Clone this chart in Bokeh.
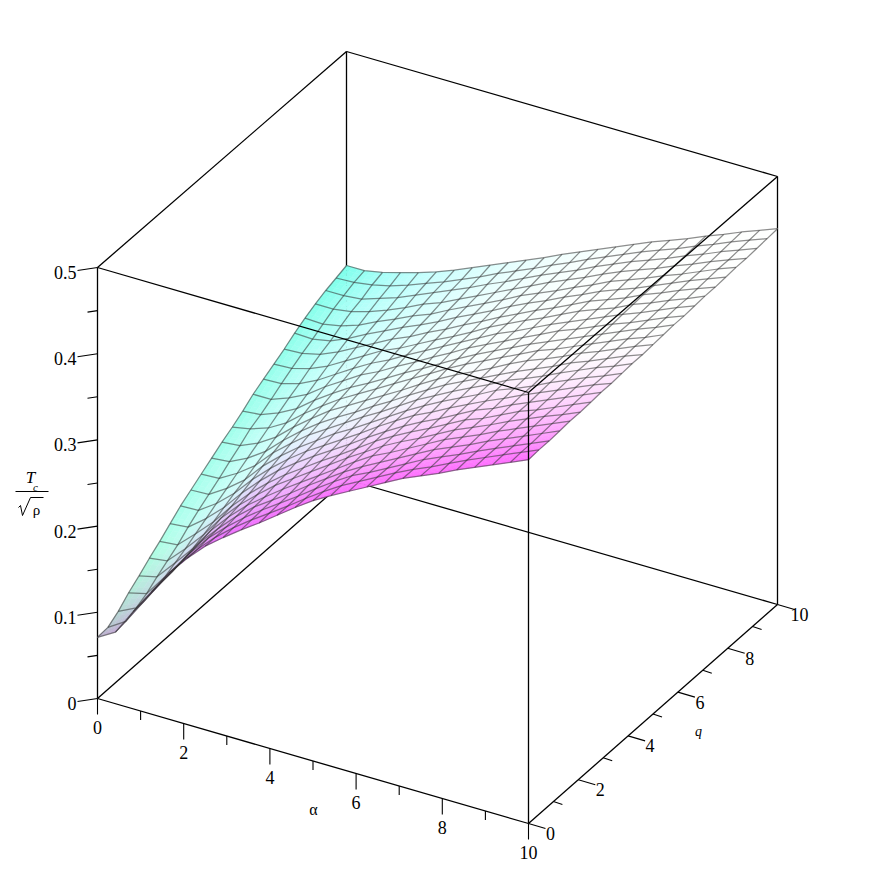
from bokeh.plotting import figure
from bokeh.models import Range1d
from bokeh.embed import file_html
from bokeh.resources import INLINE
from bokeh.core.properties import value
import numpy as np

# Tc/sqrt(rho); one list per alpha grid line, q rising along each list
z_a00 = [.071,.072,.080,.091,.100,.110,.119,.129,.139,.147,.155,.163,.171,.178,.186,.195,.202,.209,.216,.224,.231,.237,.242,.246,.250]
z_a01 = [.083,.085,.090,.096,.105,.113,.121,.131,.140,.148,.156,.165,.173,.182,.188,.195,.203,.210,.217,.223,.230,.237,.242,.247,.250]
z_a02 = [.113,.114,.117,.121,.127,.133,.140,.147,.154,.161,.168,.175,.182,.189,.196,.203,.209,.216,.222,.227,.234,.240,.244,.250,.254]
z_a03 = [.142,.143,.144,.147,.150,.155,.160,.166,.172,.177,.183,.189,.195,.201,.207,.213,.219,.225,.231,.236,.241,.246,.251,.255,.260]
z_a04 = [.170,.170,.172,.174,.177,.181,.184,.189,.194,.199,.204,.208,.213,.218,.223,.228,.232,.237,.242,.247,.251,.254,.258,.262,.266]
z_a05 = [.193,.193,.195,.196,.199,.202,.205,.209,.213,.217,.221,.225,.229,.233,.237,.241,.245,.249,.253,.257,.260,.263,.267,.270,.273]
z_a06 = [.213,.213,.214,.216,.218,.220,.223,.227,.230,.233,.237,.240,.244,.247,.250,.254,.257,.261,.264,.267,.270,.273,.276,.278,.281]
z_a07 = [.229,.230,.231,.233,.234,.237,.239,.242,.245,.247,.250,.253,.256,.259,.261,.264,.267,.270,.273,.276,.278,.281,.285,.287,.290]
z_a08 = [.244,.245,.246,.247,.249,.251,.253,.256,.258,.261,.263,.265,.268,.271,.273,.276,.279,.281,.284,.286,.289,.291,.294,.296,.299]
z_a09 = [.258,.259,.260,.261,.263,.265,.267,.269,.271,.273,.276,.278,.280,.283,.285,.287,.290,.292,.294,.297,.299,.301,.304,.306,.308]
z_a10 = [.273,.273,.274,.276,.277,.279,.280,.282,.284,.286,.288,.290,.292,.295,.296,.299,.301,.302,.305,.307,.309,.311,.313,.315,.317]
z_a11 = [.288,.288,.289,.290,.291,.293,.294,.296,.298,.299,.301,.303,.305,.307,.308,.310,.312,.313,.315,.317,.319,.321,.323,.324,.326]
z_a12 = [.302,.302,.303,.304,.305,.306,.308,.309,.311,.312,.314,.315,.317,.319,.320,.322,.323,.325,.326,.328,.330,.331,.333,.334,.336]
z_a13 = [.314,.315,.316,.316,.318,.319,.320,.321,.323,.324,.325,.327,.328,.330,.331,.332,.334,.335,.336,.338,.339,.341,.342,.343,.345]
z_a14 = [.325,.326,.326,.327,.328,.330,.331,.332,.333,.335,.336,.337,.338,.340,.341,.342,.343,.345,.346,.347,.348,.350,.351,.353,.354]
z_a15 = [.336,.337,.337,.338,.339,.340,.341,.342,.344,.345,.346,.347,.348,.350,.351,.352,.353,.354,.355,.357,.358,.359,.361,.362,.363]
z_a16 = [.347,.348,.348,.349,.350,.351,.352,.353,.354,.355,.356,.357,.359,.360,.361,.362,.363,.364,.365,.366,.367,.369,.370,.371,.372]
z_a17 = [.358,.358,.359,.360,.361,.362,.363,.364,.364,.366,.367,.367,.369,.370,.370,.372,.372,.374,.375,.376,.377,.378,.379,.380,.381]
z_a18 = [.367,.367,.368,.369,.370,.371,.371,.372,.373,.374,.375,.376,.377,.378,.379,.380,.381,.382,.383,.384,.385,.386,.387,.388,.389]
z_a19 = [.376,.377,.377,.378,.379,.380,.381,.382,.383,.383,.384,.385,.386,.387,.388,.389,.390,.390,.391,.392,.393,.394,.395,.396,.397]
z_a20 = [.386,.387,.387,.388,.389,.390,.391,.391,.392,.393,.394,.395,.396,.396,.397,.398,.399,.400,.401,.401,.402,.403,.404,.405,.406]
z_a21 = [.395,.396,.396,.397,.398,.399,.399,.400,.401,.402,.403,.403,.404,.405,.406,.406,.407,.408,.409,.410,.410,.411,.412,.413,.414]
z_a22 = [.404,.405,.405,.406,.407,.408,.408,.409,.410,.411,.412,.412,.413,.414,.415,.415,.416,.417,.418,.419,.419,.420,.421,.422,.423]
z_a23 = [.413,.414,.414,.415,.416,.416,.417,.418,.419,.419,.420,.421,.422,.422,.423,.424,.425,.425,.426,.427,.428,.428,.429,.430,.431]
z_a24 = [.422,.423,.423,.424,.425,.425,.426,.427,.427,.428,.429,.429,.430,.431,.432,.432,.433,.434,.434,.435,.436,.436,.437,.438,.439]

alpha_major = [0, 2, 4, 6, 8, 10]
alpha_minor = [1, 3, 5, 7, 9]
q_major = [0, 2, 4, 6, 8, 10]
q_minor = [1, 3, 5, 7, 9]
z_major = [0, 0.1, 0.2, 0.3, 0.4, 0.5]
z_minor = [0.05, 0.15, 0.25, 0.35, 0.45]
z_labels = ["0", "0.1", "0.2", "0.3", "0.4", "0.5"]

Z = np.array([z_a00, z_a01, z_a02, z_a03, z_a04, z_a05, z_a06, z_a07, z_a08, z_a09, z_a10, z_a11, z_a12,
              z_a13, z_a14, z_a15, z_a16, z_a17, z_a18, z_a19, z_a20, z_a21, z_a22, z_a23, z_a24])
N = Z.shape[0]
A = np.linspace(0, 10, N)
Q = np.linspace(0, 10, N)


def px(a, q):
    return 97 + 43.1 * np.asarray(a, float) + 24.9 * np.asarray(q, float)


def py(a, q, z):
    a, q, z = np.asarray(a, float), np.asarray(q, float), np.asarray(z, float)
    return 698 + 12.5 * a - 21.9 * q - (862 - 0.6 * q) * z


def colour(a, q):
    e = np.exp(-a / 0.8) * np.clip(q / 3, 0, 1)
    cy = (0.17 + 0.20 * (q / 10) ** 2) * np.clip(1 - a / 8, 0, 1) ** 2 + 0.15 * e
    w = min(5.5, 2.5 + 1.5 * a)
    mg = min(0.57, 0.30 + 0.1 * a) * np.clip(1 - q / w, 0, 1) ** 1.8
    low = np.clip(1 - a / 2.5, 0, 1) * np.clip(1 - q / 3, 0, 1)
    bb = 0.2 * low + 0.08 * e
    r = 1 - cy - 0.1 * low
    return "#%02x%02x%02x" % (int(255 * r), int(255 * (1 - mg)), int(255 * (1 - bb)))


p = figure(width=866, height=866, x_range=Range1d(0, 866), y_range=Range1d(866, 0),
           output_backend="svg", toolbar_location=None, min_border=0)
p.axis.visible = False
p.grid.visible = False
p.outline_line_color = None
p.background_fill_color = "white"
p.border_fill_color = "white"


def edge(a0, q0, z0, a1, q1, z1):
    p.line([float(px(a0, q0)), float(px(a1, q1))], [float(py(a0, q0, z0)), float(py(a1, q1, z1))],
           line_color="black", line_width=1.3)


# Box edges behind the surface
edge(0, 0, 0, 10, 0, 0)
edge(10, 0, 0, 10, 10, 0)
edge(0, 0, 0, 0, 10, 0)
edge(0, 10, 0, 10, 10, 0)
edge(0, 10, 0, 0, 10, 0.5)
edge(0, 10, 0.5, 10, 10, 0.5)
edge(0, 0, 0.5, 0, 10, 0.5)
edge(10, 10, 0, 10, 10, 0.5)
edge(0, 0, 0, 0, 0, 0.5)

# Surface, painted back to front
SUB = 3
cells = []
for i in range(N - 1):
    for j in range(N - 1):
        for u in range(SUB):
            for v in range(SUB):
                cells.append((i, j, u, v))
cells.sort(key=lambda c: 12.5 * (A[c[0]] + c[2]) - 21.9 * (Q[c[1]] + c[3]))


def bil(i, j, s, t):
    a = A[i] + (A[i + 1] - A[i]) * s
    q = Q[j] + (Q[j + 1] - Q[j]) * t
    z = (Z[i, j] * (1 - s) * (1 - t) + Z[i + 1, j] * s * (1 - t)
         + Z[i, j + 1] * (1 - s) * t + Z[i + 1, j + 1] * s * t)
    return a, q, z


xs, ys, cols = [], [], []
for i, j, u, v in cells:
    s0, s1, t0, t1 = u / SUB, (u + 1) / SUB, v / SUB, (v + 1) / SUB
    pts = [bil(i, j, s0, t0), bil(i, j, s1, t0), bil(i, j, s1, t1), bil(i, j, s0, t1)]
    xs.append([float(px(a, q)) for a, q, z in pts])
    ys.append([float(py(a, q, z)) for a, q, z in pts])
    ac, qc, _ = bil(i, j, (s0 + s1) / 2, (t0 + t1) / 2)
    cols.append(colour(ac, qc))
p.patches(xs, ys, fill_color=cols, line_color=cols, line_width=0.5)

# Wire mesh
wx, wy = [], []
for i in range(N):
    wx.append(px(np.full(N, A[i]), Q).tolist())
    wy.append(py(np.full(N, A[i]), Q, Z[i]).tolist())
for j in range(N):
    wx.append(px(A, np.full(N, Q[j])).tolist())
    wy.append(py(A, np.full(N, Q[j]), Z[:, j]).tolist())
p.multi_line(wx, wy, line_color="#303030", line_alpha=0.55, line_width=1.25)

# Box edges in front of the surface
edge(0, 0, 0.5, 10, 0, 0.5)
edge(10, 0, 0.5, 10, 10, 0.5)
edge(10, 0, 0, 10, 0, 0.5)

serif = value("Liberation Serif")

# alpha axis
for v_, ln in [(v_, 16) for v_ in alpha_major] + [(v_, 9) for v_ in alpha_minor]:
    x0, y0 = float(px(v_, 0)), float(py(v_, 0, 0))
    p.line([x0, x0], [y0, y0 + ln], line_color="black", line_width=1.1)
p.text([float(px(v_, 0)) for v_ in alpha_major], [float(py(v_, 0, 0)) + 29 for v_ in alpha_major],
       text=[str(v_) for v_ in alpha_major], text_font=serif, text_font_size="18px",
       text_align="center", text_baseline="middle", text_color="black")

# q axis
for v_, dx, dy in [(v_, 17, 5) for v_ in q_major] + [(v_, 9, 3) for v_ in q_minor]:
    x0, y0 = float(px(10, v_)), float(py(10, v_, 0))
    p.line([x0, x0 + dx], [y0, y0 + dy], line_color="black", line_width=1.1)
p.text([float(px(10, v_)) + 22 for v_ in q_major], [float(py(10, v_, 0)) + 10 for v_ in q_major],
       text=[str(v_) for v_ in q_major], text_font=serif, text_font_size="18px",
       text_align="center", text_baseline="middle", text_color="black")

# z axis
for v_, dx, dy in [(v_, -20, 3) for v_ in z_major] + [(v_, -10, 1.5) for v_ in z_minor]:
    x0, y0 = float(px(0, 0)), float(py(0, 0, v_))
    p.line([x0, x0 + dx], [y0, y0 + dy], line_color="black", line_width=1.1)
p.text([76] * len(z_major), [float(py(0, 0, v_)) + 5 for v_ in z_major],
       text=z_labels, text_font=serif, text_font_size="18px",
       text_align="right", text_baseline="middle", text_color="black")

# Axis titles
p.text([313], [809], text=["α"], text_font=serif, text_font_size="16px",
       text_align="center", text_baseline="middle", text_color="black")
p.text([698], [731], text=["q"], text_font=serif, text_font_size="14px", text_font_style="italic",
       text_align="center", text_baseline="middle", text_color="black")
p.text([30], [477], text=["T"], text_font=serif, text_font_size="17px", text_font_style="italic",
       text_align="center", text_baseline="middle", text_color="black")
p.text([35], [486], text=["c"], text_font=serif, text_font_size="11px", text_font_style="italic",
       text_align="center", text_baseline="middle", text_color="black")
p.line([15, 48], [491, 491], line_color="black", line_width=1.1)
p.line([18, 20, 22, 30, 43], [507, 505, 515, 497, 497], line_color="black", line_width=1.0)
p.text([36], [509], text=["ρ"], text_font=serif, text_font_size="15px",
       text_align="center", text_baseline="middle", text_color="black")

open("out.html", "w").write(file_html(p, INLINE))
